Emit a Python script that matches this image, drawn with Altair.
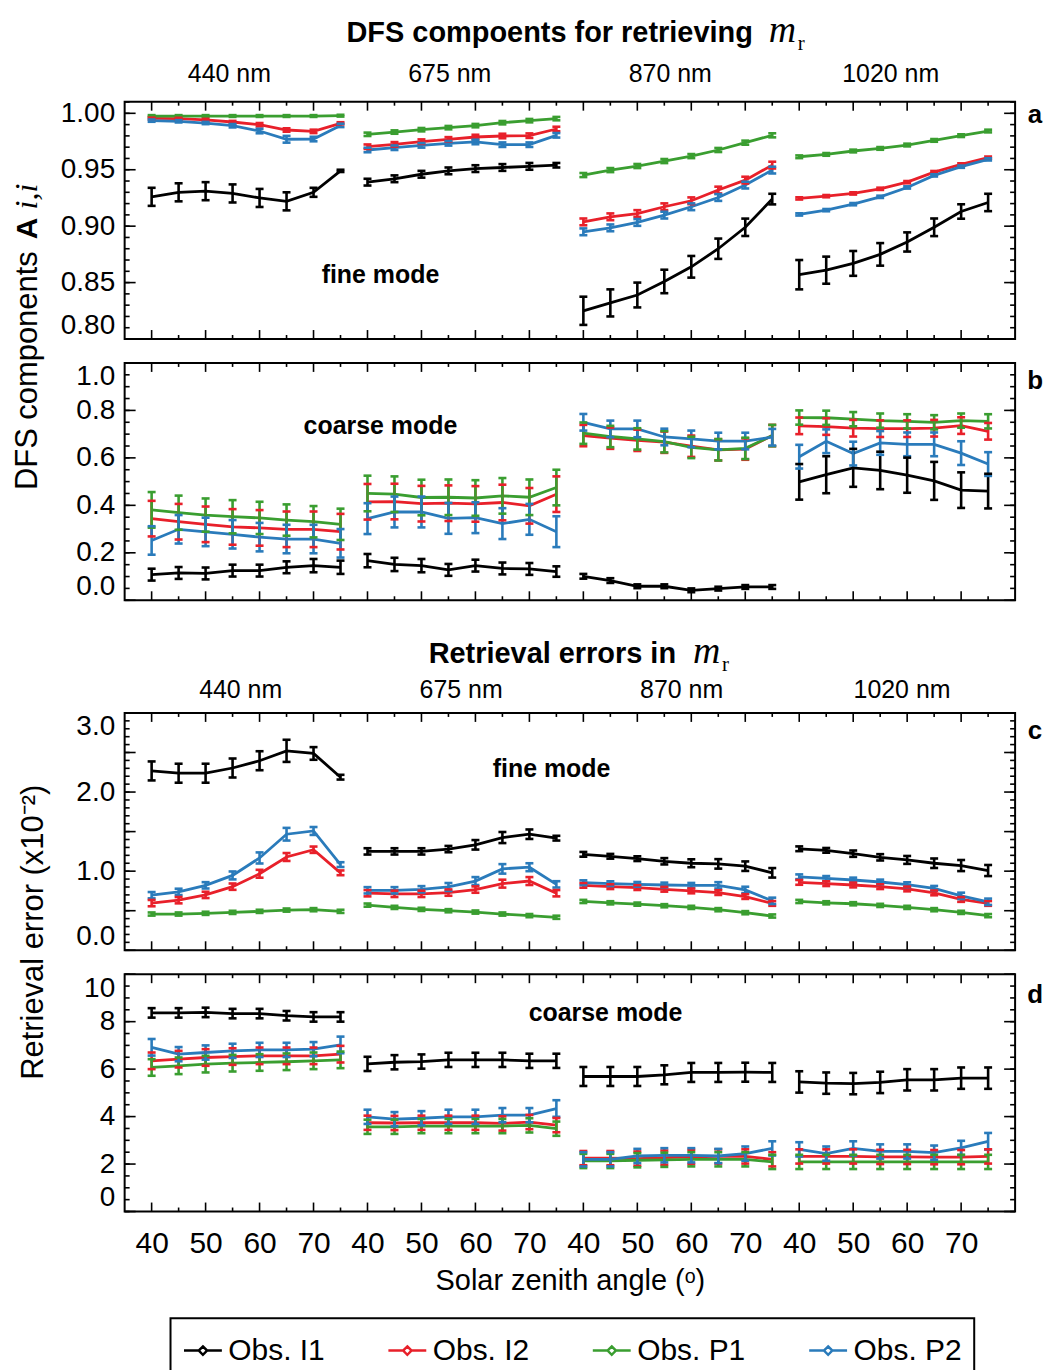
import altair as alt
import pandas as pd

SZA = [40, 45, 50, 55, 60, 65, 70, 75]
BANDS = ["440 nm", "675 nm", "870 nm", "1020 nm"]
SERIES = ["Obs. I1", "Obs. I2", "Obs. P1", "Obs. P2"]
COLORS = ["#000000", "#e8202a", "#3a9e30", "#2a7bbb"]

# ---- panel a : DFS fine mode ----
A_I1 = [[0.926, 0.930, 0.931, 0.929, 0.925, 0.922, 0.930, 0.949],
        [0.939, 0.942, 0.946, 0.949, 0.951, 0.952, 0.953, 0.954],
        [0.825, 0.832, 0.839, 0.851, 0.864, 0.880, 0.899, 0.924],
        [0.857, 0.861, 0.867, 0.875, 0.886, 0.899, 0.913, 0.921]]
A_I2 = [[0.9956, 0.9953, 0.9941, 0.9923, 0.9899, 0.9852, 0.9840, 0.9911],
        [0.9704, 0.9725, 0.9749, 0.9769, 0.9790, 0.9799, 0.9802, 0.9861],
        [0.9038, 0.9083, 0.9112, 0.9172, 0.9225, 0.9320, 0.9408, 0.9541],
        [0.9246, 0.9266, 0.9290, 0.9331, 0.9390, 0.9479, 0.9547, 0.9607]]
A_P1 = [[0.9976, 0.9976, 0.9976, 0.9976, 0.9976, 0.9976, 0.9976, 0.9979],
        [0.9814, 0.9834, 0.9855, 0.9873, 0.9891, 0.9917, 0.9935, 0.9953],
        [0.9453, 0.9497, 0.9533, 0.9577, 0.9621, 0.9675, 0.9740, 0.9805],
        [0.9615, 0.9636, 0.9666, 0.9689, 0.9719, 0.9760, 0.9802, 0.9843]]
A_P2 = [[0.9935, 0.9929, 0.9914, 0.9890, 0.9843, 0.9770, 0.9772, 0.9893],
        [0.9675, 0.9695, 0.9716, 0.9734, 0.9746, 0.9722, 0.9722, 0.9805],
        [0.8950, 0.8985, 0.9033, 0.9098, 0.9172, 0.9254, 0.9364, 0.9497],
        [0.9104, 0.9142, 0.9195, 0.9260, 0.9343, 0.9450, 0.9527, 0.9592]]
A_I1_ERR = [[0.008, 0.008, 0.008, 0.008, 0.008, 0.008, 0.004, 0.001],
            [0.003, 0.003, 0.003, 0.003, 0.003, 0.003, 0.003, 0.002],
            [0.0125, 0.012, 0.011, 0.0104, 0.0096, 0.009, 0.0077, 0.0047],
            [0.013, 0.012, 0.011, 0.010, 0.0085, 0.0078, 0.0064, 0.0077]]
A_I2_ERR = [[0.001, 0.001, 0.001, 0.001, 0.0015, 0.0015, 0.0015, 0.001],
            [0.002, 0.002, 0.002, 0.002, 0.002, 0.002, 0.002, 0.002],
            [0.003, 0.003, 0.003, 0.003, 0.003, 0.003, 0.003, 0.003],
            [0.001, 0.001, 0.001, 0.001, 0.001, 0.001, 0.001, 0.001]]
A_P1_ERR = [[0.0008, 0.0008, 0.0008, 0.0008, 0.0008, 0.0008, 0.0008, 0.0008],
            [0.0015, 0.0015, 0.0015, 0.0015, 0.0015, 0.0015, 0.0015, 0.0015],
            [0.0018, 0.0018, 0.0018, 0.0018, 0.0018, 0.0018, 0.0018, 0.0018],
            [0.0012, 0.0012, 0.0012, 0.0012, 0.0012, 0.0012, 0.0012, 0.0012]]
A_P2_ERR = [[0.001, 0.001, 0.001, 0.0015, 0.002, 0.003, 0.002, 0.0015],
            [0.002, 0.002, 0.002, 0.002, 0.002, 0.002, 0.002, 0.002],
            [0.003, 0.003, 0.003, 0.003, 0.003, 0.003, 0.003, 0.003],
            [0.001, 0.001, 0.001, 0.001, 0.001, 0.001, 0.001, 0.001]]

# ---- panel b : DFS coarse mode ----
B_I1 = [[0.108, 0.115, 0.113, 0.125, 0.125, 0.139, 0.146, 0.139],
        [0.167, 0.151, 0.146, 0.128, 0.146, 0.134, 0.132, 0.121],
        [0.101, 0.083, 0.059, 0.059, 0.042, 0.049, 0.056, 0.056],
        [0.499, 0.529, 0.558, 0.547, 0.527, 0.503, 0.464, 0.460]]
B_I2 = [[0.344, 0.331, 0.320, 0.309, 0.305, 0.299, 0.299, 0.289],
        [0.415, 0.416, 0.407, 0.409, 0.406, 0.412, 0.398, 0.447],
        [0.694, 0.683, 0.674, 0.666, 0.649, 0.634, 0.637, 0.694],
        [0.735, 0.732, 0.725, 0.723, 0.723, 0.725, 0.736, 0.712]]
B_P1 = [[0.381, 0.369, 0.359, 0.352, 0.347, 0.338, 0.331, 0.320],
        [0.450, 0.447, 0.433, 0.434, 0.431, 0.440, 0.434, 0.475],
        [0.704, 0.690, 0.680, 0.668, 0.644, 0.634, 0.640, 0.694],
        [0.770, 0.769, 0.763, 0.757, 0.754, 0.750, 0.757, 0.754]]
B_P2 = [[0.252, 0.299, 0.288, 0.278, 0.266, 0.258, 0.258, 0.240],
        [0.344, 0.372, 0.372, 0.345, 0.348, 0.323, 0.341, 0.289],
        [0.750, 0.722, 0.722, 0.688, 0.680, 0.671, 0.671, 0.687],
        [0.605, 0.670, 0.618, 0.663, 0.657, 0.657, 0.620, 0.574]]
B_I1_ERR = [[0.025, 0.025, 0.025, 0.025, 0.025, 0.025, 0.028, 0.028],
            [0.028, 0.028, 0.028, 0.025, 0.025, 0.025, 0.025, 0.022],
            [0.010, 0.010, 0.008, 0.008, 0.008, 0.008, 0.008, 0.008],
            [0.075, 0.078, 0.080, 0.079, 0.074, 0.080, 0.075, 0.073]]
B_I2_ERR = [[0.075, 0.075, 0.075, 0.075, 0.075, 0.075, 0.075, 0.075],
            [0.075, 0.075, 0.075, 0.075, 0.075, 0.075, 0.075, 0.075],
            [0.045, 0.045, 0.045, 0.045, 0.045, 0.045, 0.045, 0.045],
            [0.035, 0.035, 0.035, 0.035, 0.035, 0.035, 0.035, 0.035]]
B_P1_ERR = [[0.075, 0.072, 0.070, 0.070, 0.068, 0.066, 0.066, 0.066],
            [0.075, 0.075, 0.075, 0.075, 0.075, 0.075, 0.075, 0.075],
            [0.045, 0.045, 0.045, 0.045, 0.045, 0.045, 0.045, 0.045],
            [0.030, 0.030, 0.030, 0.030, 0.030, 0.030, 0.030, 0.030]]
B_P2_ERR = [[0.060, 0.060, 0.060, 0.060, 0.060, 0.060, 0.060, 0.060],
            [0.065, 0.065, 0.065, 0.065, 0.065, 0.065, 0.065, 0.065],
            [0.035, 0.035, 0.035, 0.035, 0.035, 0.035, 0.035, 0.035],
            [0.050, 0.050, 0.050, 0.050, 0.050, 0.050, 0.050, 0.050]]

# ---- panel c : retrieval error fine mode (x1e-2) ----
C_I1 = [[2.267, 2.238, 2.238, 2.304, 2.396, 2.521, 2.488, 2.188],
        [1.250, 1.250, 1.250, 1.279, 1.333, 1.425, 1.467, 1.417],
        [1.213, 1.188, 1.158, 1.125, 1.100, 1.092, 1.063, 0.979],
        [1.283, 1.263, 1.221, 1.175, 1.142, 1.100, 1.071, 1.008]]
C_I2 = [[0.596, 0.633, 0.700, 0.804, 0.967, 1.179, 1.271, 0.979],
        [0.721, 0.713, 0.713, 0.729, 0.767, 0.842, 0.875, 0.721],
        [0.821, 0.804, 0.792, 0.771, 0.750, 0.729, 0.679, 0.592],
        [0.858, 0.842, 0.825, 0.804, 0.775, 0.725, 0.642, 0.592]]
C_P1 = [[0.458, 0.458, 0.467, 0.479, 0.492, 0.508, 0.513, 0.492],
        [0.571, 0.542, 0.517, 0.500, 0.483, 0.458, 0.438, 0.417],
        [0.617, 0.600, 0.583, 0.563, 0.542, 0.513, 0.475, 0.433],
        [0.617, 0.600, 0.588, 0.567, 0.542, 0.513, 0.479, 0.438]]
C_P2 = [[0.696, 0.738, 0.821, 0.946, 1.167, 1.467, 1.508, 1.083],
        [0.758, 0.758, 0.771, 0.800, 0.875, 1.029, 1.050, 0.833],
        [0.854, 0.842, 0.833, 0.825, 0.821, 0.821, 0.763, 0.625],
        [0.929, 0.908, 0.888, 0.863, 0.829, 0.783, 0.688, 0.613]]
C_I1_ERR = [[0.12, 0.12, 0.12, 0.12, 0.12, 0.14, 0.08, 0.03],
            [0.04, 0.04, 0.04, 0.04, 0.06, 0.07, 0.06, 0.03],
            [0.03, 0.03, 0.03, 0.04, 0.05, 0.06, 0.06, 0.06],
            [0.03, 0.03, 0.04, 0.04, 0.05, 0.06, 0.07, 0.07]]
C_I2_ERR = [[0.04, 0.04, 0.04, 0.04, 0.05, 0.05, 0.04, 0.03],
            [0.04, 0.04, 0.04, 0.04, 0.04, 0.05, 0.05, 0.04],
            [0.03, 0.03, 0.03, 0.03, 0.03, 0.03, 0.03, 0.03],
            [0.03, 0.03, 0.03, 0.03, 0.03, 0.03, 0.03, 0.03]]
C_P1_ERR = [[0.02, 0.02, 0.02, 0.02, 0.02, 0.02, 0.02, 0.02],
            [0.02, 0.02, 0.02, 0.02, 0.02, 0.02, 0.02, 0.02],
            [0.02, 0.02, 0.02, 0.02, 0.02, 0.02, 0.02, 0.02],
            [0.02, 0.02, 0.02, 0.02, 0.02, 0.02, 0.02, 0.02]]
C_P2_ERR = [[0.04, 0.04, 0.04, 0.05, 0.07, 0.08, 0.05, 0.03],
            [0.04, 0.04, 0.04, 0.05, 0.05, 0.06, 0.05, 0.04],
            [0.03, 0.03, 0.03, 0.03, 0.03, 0.04, 0.04, 0.04],
            [0.03, 0.03, 0.03, 0.03, 0.03, 0.03, 0.04, 0.04]]

# ---- panel d : retrieval error coarse mode (x1e-2) ----
D_I1 = [[8.37, 8.37, 8.39, 8.34, 8.34, 8.25, 8.20, 8.20],
        [6.22, 6.29, 6.32, 6.39, 6.39, 6.39, 6.35, 6.35],
        [5.69, 5.69, 5.69, 5.76, 5.86, 5.86, 5.87, 5.86],
        [5.46, 5.41, 5.39, 5.44, 5.55, 5.55, 5.62, 5.62]]
D_I2 = [[6.35, 6.42, 6.49, 6.53, 6.56, 6.56, 6.56, 6.63],
        [3.74, 3.73, 3.74, 3.74, 3.74, 3.71, 3.77, 3.64],
        [2.25, 2.25, 2.23, 2.27, 2.30, 2.32, 2.32, 2.20],
        [2.32, 2.32, 2.32, 2.30, 2.30, 2.29, 2.29, 2.32]]
D_P1 = [[6.07, 6.14, 6.21, 6.25, 6.28, 6.31, 6.35, 6.39],
        [3.57, 3.57, 3.60, 3.60, 3.60, 3.60, 3.63, 3.49],
        [2.13, 2.13, 2.16, 2.18, 2.20, 2.20, 2.20, 2.09],
        [2.09, 2.09, 2.09, 2.09, 2.09, 2.09, 2.09, 2.09]]
D_P2 = [[6.92, 6.63, 6.70, 6.77, 6.81, 6.81, 6.84, 7.02],
        [3.99, 3.89, 3.93, 3.99, 3.99, 4.06, 4.06, 4.34],
        [2.20, 2.20, 2.34, 2.37, 2.37, 2.34, 2.44, 2.66],
        [2.62, 2.44, 2.66, 2.53, 2.53, 2.48, 2.68, 2.96]]
D_I1_ERR = [[0.20, 0.20, 0.20, 0.20, 0.20, 0.20, 0.20, 0.20],
            [0.30, 0.30, 0.30, 0.30, 0.30, 0.30, 0.30, 0.30],
            [0.40, 0.40, 0.40, 0.40, 0.40, 0.40, 0.40, 0.40],
            [0.45, 0.45, 0.45, 0.45, 0.45, 0.45, 0.45, 0.45]]
D_I2_ERR = [[0.35, 0.35, 0.35, 0.35, 0.35, 0.35, 0.35, 0.35],
            [0.30, 0.30, 0.30, 0.30, 0.30, 0.30, 0.30, 0.30],
            [0.30, 0.30, 0.30, 0.30, 0.30, 0.30, 0.30, 0.30],
            [0.30, 0.30, 0.30, 0.30, 0.30, 0.30, 0.30, 0.30]]
D_P1_ERR = [[0.35, 0.35, 0.35, 0.35, 0.35, 0.35, 0.35, 0.35],
            [0.30, 0.30, 0.30, 0.30, 0.30, 0.30, 0.30, 0.30],
            [0.30, 0.30, 0.30, 0.30, 0.30, 0.30, 0.30, 0.30],
            [0.30, 0.30, 0.30, 0.30, 0.30, 0.30, 0.30, 0.30]]
D_P2_ERR = [[0.35, 0.30, 0.30, 0.30, 0.30, 0.30, 0.30, 0.35],
            [0.30, 0.30, 0.30, 0.30, 0.30, 0.30, 0.30, 0.35],
            [0.30, 0.30, 0.30, 0.30, 0.30, 0.30, 0.30, 0.30],
            [0.30, 0.30, 0.30, 0.30, 0.30, 0.30, 0.30, 0.35]]

SANS = "Liberation Sans"
SERIF = "Liberation Serif"
W, H = 893, 238
XDOM = [35, 200]
CAP = 0.74  # half cap width in x units (about 4 px)


def build_df(series_vals, series_errs):
    rows = []
    for s, vals, errs in zip(SERIES, series_vals, series_errs):
        for g, band in enumerate(BANDS):
            for k, sza in enumerate(SZA):
                v, e = vals[g][k], errs[g][k]
                x = 40 * g + sza
                rows.append({"x": x, "xl": x - CAP, "xr": x + CAP, "y": v, "lo": v - e,
                             "hi": v + e, "series": s, "band": band})
    return pd.DataFrame(rows)


LEGEND_KW = dict(title=None, orient="none", legendX=46, legendY=1220,
                 direction="horizontal", columns=4, gridAlign="none",
                 strokeColor="black", padding=12,
                 labelFont=SANS, labelFontSize=30, labelColor="black", labelLimit=300,
                 symbolType="M-1,0L-0.22,0M0.22,0L1,0M0,-0.22L0.22,0L0,0.22L-0.22,0Z",
                 symbolSize=1444, symbolStrokeWidth=2.5, symbolOpacity=1,
                 columnPadding=58, labelOffset=5)


def make_color(with_fill):
    kw = dict(LEGEND_KW)
    if with_fill:
        kw["symbolFillColor"] = "white"
    return alt.Color("series:N", scale=alt.Scale(domain=SERIES, range=COLORS),
                     legend=alt.Legend(**kw))


def one():
    return alt.Chart(pd.DataFrame({"k": [0]}))


def panel(vals, errs, ydom, ymajor, yminor, fmt, xaxis, extras, COLOR):
    df = build_df(vals, errs)
    xs = alt.Scale(domain=XDOM, nice=False, zero=False)
    ys = alt.Scale(domain=ydom, nice=False, zero=False)
    yax = alt.Axis(values=ymajor, format=fmt, labelFlush=True, ticks=False, domain=False,
                   grid=False, title=None, labelFontSize=28, labelFont=SANS,
                   labelColor="black", labelPadding=10)

    def X(f="x"):
        return alt.X(f + ":Q", scale=xs, axis=xaxis)

    def Y(f):
        return alt.Y(f + ":Q", scale=ys, axis=yax)

    base = alt.Chart(df)
    lines = base.mark_line(strokeWidth=2.8).encode(x=X(), y=Y("y"), color=COLOR, detail="band:N")
    bars = base.mark_rule(strokeWidth=2.6).encode(x=X(), y=Y("lo"), y2="hi:Q", color=COLOR)
    cap_lo = base.mark_rule(strokeWidth=2.6).encode(x=X("xl"), x2="xr:Q", y=Y("lo"), color=COLOR)
    cap_hi = base.mark_rule(strokeWidth=2.6).encode(x=X("xl"), x2="xr:Q", y=Y("hi"), color=COLOR)

    frame = one().mark_rect(filled=False, stroke="black", strokeWidth=2).encode(
        x=alt.value(0), x2=alt.value(W), y=alt.value(0), y2=alt.value(H))

    # inward frame ticks
    xmaj = pd.DataFrame({"x": [40 * g + s for g in range(4) for s in (40, 50, 60, 70)]})
    xmin = pd.DataFrame({"x": [40 * g + s for g in range(4) for s in (45, 55, 65, 75)]})
    ymj = pd.DataFrame({"y": ymajor})
    ymn = pd.DataFrame({"y": yminor})
    tk = []
    for d, L in ((xmaj, 9), (xmin, 4)):
        tk.append(alt.Chart(d).mark_rule(color="black", strokeWidth=1.6).encode(
            x=X(), y=alt.value(H), y2=alt.value(H - L)))
        tk.append(alt.Chart(d).mark_rule(color="black", strokeWidth=1.6).encode(
            x=X(), y=alt.value(0), y2=alt.value(L)))
    for d, L in ((ymj, 11), (ymn, 5)):
        tk.append(alt.Chart(d).mark_rule(color="black", strokeWidth=1.6).encode(
            y=Y("y"), x=alt.value(0), x2=alt.value(L)))
        tk.append(alt.Chart(d).mark_rule(color="black", strokeWidth=1.6).encode(
            y=Y("y"), x=alt.value(W), x2=alt.value(W - L)))

    ex = []
    for e in extras:
        kind = e[0]
        if kind == "data":
            _, text, xv, yv, size, weight = e
            ex.append(alt.Chart(pd.DataFrame({"x": [xv], "y": [yv]})).mark_text(
                text=text, font=SANS, fontSize=size, fontWeight=weight, color="black",
                align="center", baseline="middle").encode(x=X(), y=Y("y")))
        elif kind == "bands":
            _, x0, ypx = e
            bd = pd.DataFrame({"x": [x0 + 40.85 * g for g in range(4)], "band": BANDS})
            ex.append(alt.Chart(bd).mark_text(font=SANS, fontSize=25, color="black",
                                              align="center", baseline="middle").encode(
                x=X(), y=alt.value(ypx), text="band:N"))
        elif kind == "px":
            _, text, xp, yp, kw = e
            ex.append(one().mark_text(text=text, color="black", **kw).encode(
                x=alt.value(xp), y=alt.value(yp)))
    return alt.layer(lines, bars, cap_lo, cap_hi, frame, *tk, *ex).properties(width=W, height=H)


def frange(a, b, s):
    n = int(round((b - a) / s))
    return [round(a + i * s, 4) for i in range(n + 1)]


def build(COLOR):
    pa = panel([A_I1, A_I2, A_P1, A_P2], [A_I1_ERR, A_I2_ERR, A_P1_ERR, A_P2_ERR],
               [0.80, 1.0103], frange(0.80, 1.00, 0.05), frange(0.80, 1.01, 0.01), ".2f", None,
               [("data", "fine mode", 82.4, 0.857, 25, "bold"),
                ("bands", 54.4, -28),
                ("px", "DFS compoents for retrieving", 630, -60,
                 dict(font=SANS, fontSize=29, fontWeight="bold", align="right", baseline="alphabetic")),
                ("px", "m", 646, -60,
                 dict(font=SERIF, fontSize=38, fontStyle="italic", align="left", baseline="alphabetic")),
                ("px", "r", 675, -52,
                 dict(font=SERIF, fontSize=21, align="left", baseline="alphabetic")),
                ("px", "DFS components", -88, 150,
                 dict(font=SANS, fontSize=31, angle=270, align="right", baseline="alphabetic")),
                ("px", "A", -88, 138,
                 dict(font=SANS, fontSize=30, fontWeight="bold", angle=270, align="left", baseline="alphabetic")),
                ("px", "i,i", -88, 108,
                 dict(font=SERIF, fontSize=32, fontStyle="italic", angle=270, align="left", baseline="alphabetic")),
                ("px", "a", W + 20, 13,
                 dict(font=SANS, fontSize=26, fontWeight="bold", align="center", baseline="middle"))],
               COLOR)

    pb = panel([B_I1, B_I2, B_P1, B_P2], [B_I1_ERR, B_I2_ERR, B_P1_ERR, B_P2_ERR],
               [0.0, 1.0], frange(0.0, 1.0, 0.2), frange(0.0, 1.0, 0.05), ".1f", None,
               [("data", "coarse mode", 82.4, 0.734, 25, "bold"),
                ("px", "b", W + 20, 18,
                 dict(font=SANS, fontSize=26, fontWeight="bold", align="center", baseline="middle"))],
               COLOR)

    pc = panel([C_I1, C_I2, C_P1, C_P2], [C_I1_ERR, C_I2_ERR, C_P1_ERR, C_P2_ERR],
               [0.0, 3.0], frange(0.0, 3.0, 0.5), frange(0.0, 3.0, 0.1), ".1f", None,
               [("data", "fine mode", 114.1, 2.29, 25, "bold"),
                ("bands", 56.5, -23),
                ("px", "Retrieval errors in", 553, -50,
                 dict(font=SANS, fontSize=29, fontWeight="bold", align="right", baseline="alphabetic")),
                ("px", "m", 570, -50,
                 dict(font=SERIF, fontSize=38, fontStyle="italic", align="left", baseline="alphabetic")),
                ("px", "r", 599, -42,
                 dict(font=SERIF, fontSize=21, align="left", baseline="alphabetic")),
                ("px", "Retrieval error (x10\u207b\u00b2)", -82, 220,
                 dict(font=SANS, fontSize=31, angle=270, align="center", baseline="alphabetic")),
                ("px", "c", W + 20, 18,
                 dict(font=SANS, fontSize=26, fontWeight="bold", align="center", baseline="middle"))],
               COLOR)

    xaxis_d = alt.Axis(values=[40 * g + s for g in range(4) for s in (40, 50, 60, 70)],
                       labelExpr="toString(((datum.value - 40) % 40) + 40)",
                       ticks=False, domain=False, grid=False, labelFlush=False,
                       labelFontSize=30, labelFont=SANS, labelColor="black", labelPadding=17,
                       title="Solar zenith angle (\u1d52)", titleFont=SANS, titleFontSize=29,
                       titleFontWeight="normal", titleColor="black", titlePadding=8)

    pdd = panel([D_I1, D_I2, D_P1, D_P2], [D_I1_ERR, D_I2_ERR, D_P1_ERR, D_P2_ERR],
                [0.0, 10.0], frange(0.0, 10.0, 2.0), frange(0.0, 10.0, 0.5), "d", xaxis_d,
                [("data", "coarse mode", 124.1, 8.36, 25, "bold"),
                 ("px", "d", W + 20, 21,
                  dict(font=SANS, fontSize=26, fontWeight="bold", align="center", baseline="middle"))],
                COLOR)

    spacer = one().mark_point(opacity=0).encode(x=alt.value(0), y=alt.value(0)).properties(
        width=W, height=65)

    ch = alt.vconcat(pa, pb, spacer, pc, pdd, spacing=24, bounds="flush").properties(
        padding={"left": 10, "top": 9, "right": 5, "bottom": 5}
    ).configure_view(stroke="transparent").configure_legend(strokeWidth=2)
    return ch


try:
    chart = build(make_color(True))
    chart.to_dict()
except Exception:
    chart = build(make_color(False))

chart.save("out.html", embed_options={"renderer": "svg", "actions": False})
